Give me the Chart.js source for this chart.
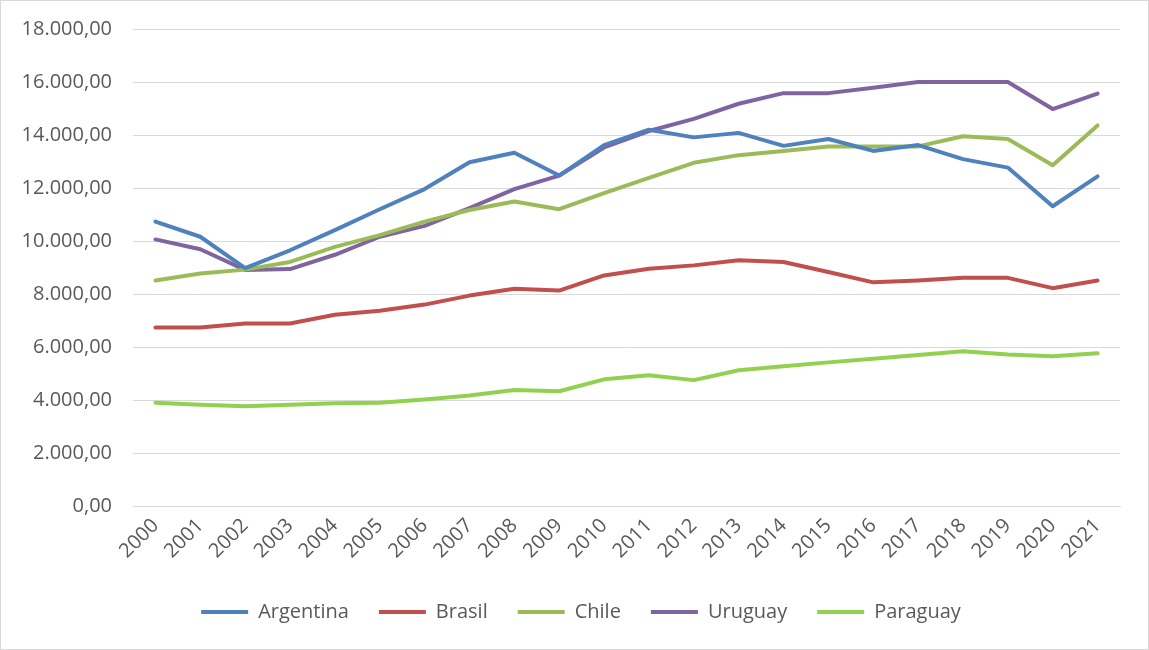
<!DOCTYPE html>
<html>
<head>
<meta charset="utf-8">
<script src="https://cdn.jsdelivr.net/npm/chart.js@4.4.0/dist/chart.umd.min.js"></script>
<style>
  html, body { margin: 0; padding: 0; background: #fff; }
  #box { position: relative; width: 1149px; height: 650px; }
</style>
</head>
<body>
<div id="box"><canvas id="myChart" width="1149" height="650"></canvas></div>
<script>
// values
var years = ["2000","2001","2002","2003","2004","2005","2006","2007","2008","2009","2010",
             "2011","2012","2013","2014","2015","2016","2017","2018","2019","2020","2021"];

var argentina = [10730, 10160, 8980, 9650, 10410, 11200, 11960, 12970, 13330, 12470, 13620,
                 14200, 13910, 14080, 13590, 13850, 13400, 13620, 13090, 12770, 11310, 12440];
var brasil    = [6740, 6740, 6890, 6890, 7220, 7370, 7600, 7940, 8200, 8130, 8700,
                 8950, 9080, 9270, 9210, 8830, 8440, 8510, 8610, 8610, 8220, 8510];
var chile     = [8510, 8770, 8920, 9210, 9780, 10220, 10730, 11170, 11490, 11200, 11810,
                 12380, 12950, 13240, 13400, 13570, 13570, 13570, 13950, 13850, 12860, 14360];
var uruguay   = [10060, 9690, 8910, 8940, 9480, 10160, 10570, 11240, 11960, 12470, 13530,
                 14150, 14610, 15180, 15580, 15580, 15780, 16000, 16000, 16000, 14980, 15560];
var paraguay  = [3900, 3820, 3760, 3820, 3880, 3900, 4020, 4170, 4380, 4330, 4780,
                 4930, 4750, 5120, 5270, 5420, 5560, 5700, 5840, 5720, 5650, 5760];

var yMin = 0, yMax = 18000, yStep = 2000;

function fmt(v) {
  var parts = Number(v).toFixed(2).split(".");
  return parts[0].replace(/\B(?=(\d{3})+(?!\d))/g, ".") + "," + parts[1];
}

function serie(label, data, color) {
  return {
    label: label,
    data: data,
    borderColor: color,
    backgroundColor: color,
    borderWidth: 4,
    pointRadius: 0,
    pointHoverRadius: 0,
    tension: 0,
    borderJoinStyle: "round",
    borderCapStyle: "round",
    fill: false
  };
}

// thin grey frame round the whole chart, and nudge the legend right
var frame = {
  id: "frame",
  afterLayout: function (chart) {
    chart.legend.left += 21;
    chart.legend.right += 21;
  },
  afterDraw: function (chart) {
    var ctx = chart.ctx;
    ctx.save();
    ctx.strokeStyle = "#d9d9d9";
    ctx.lineWidth = 1;
    ctx.strokeRect(0.5, 0.5, chart.width - 1, chart.height - 1);
    ctx.restore();
  }
};

Chart.defaults.font.family = "'Open Sans', sans-serif";
Chart.defaults.font.size = 20;
Chart.defaults.color = "#595959";

var ctx = document.getElementById("myChart").getContext("2d");
var chart = new Chart(ctx, {
  type: "line",
  data: {
    labels: years,
    datasets: [
      serie("Argentina", argentina, "#4f81bd"),
      serie("Brasil", brasil, "#c0504d"),
      serie("Chile", chile, "#9bbb59"),
      serie("Uruguay", uruguay, "#8064a2"),
      serie("Paraguay", paraguay, "#92d050")
    ]
  },
  options: {
    responsive: false,
    animation: false,
    devicePixelRatio: 1,
    layout: { padding: { top: 29, right: 29, left: 0, bottom: 18 } },
    plugins: {
      tooltip: { enabled: false },
      legend: {
        position: "bottom",
        labels: {
          usePointStyle: true,
          pointStyle: "line",
          pointStyleWidth: 47,
          padding: 30,
          color: "#595959",
          font: { size: 20 }
        }
      }
    },
    scales: {
      x: {
        offset: true,
        grid: { display: false, drawTicks: false },
        border: { display: true, color: "#d9d9d9", width: 1 },
        ticks: { minRotation: 45, maxRotation: 45, padding: 8, autoSkip: false },
        afterFit: function (s) { s.height = 66; }
      },
      y: {
        min: yMin,
        max: yMax,
        grid: { color: "#d9d9d9", lineWidth: 1, drawTicks: false },
        border: { display: false },
        ticks: {
          stepSize: yStep,
          padding: 21,
          font: { size: 20, lineHeight: 0.5 },
          callback: function (v) { return fmt(v); }
        },
        afterFit: function (s) { s.width = 133; }
      }
    }
  },
  plugins: [frame]
});
</script>
</body>
</html>
